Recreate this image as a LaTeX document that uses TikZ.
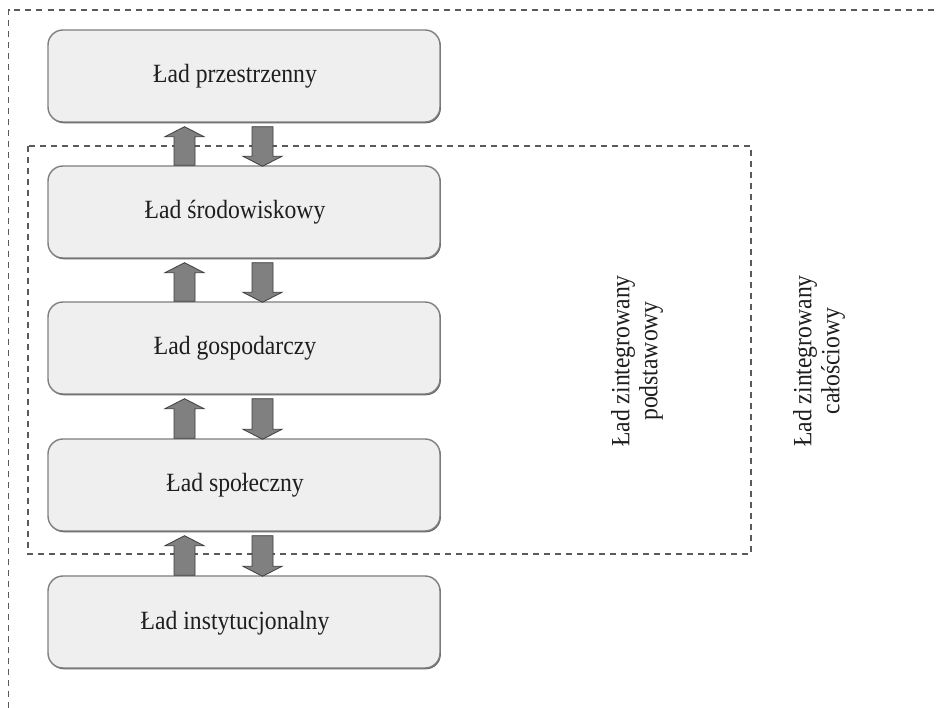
\documentclass[tikz,border=0pt]{standalone}
\usepackage{fontspec}
\setmainfont{Liberation Serif}[FakeStretch=0.9]
\usetikzlibrary{calc,shadows}
\definecolor{boxfill}{HTML}{EFEFEF}
\definecolor{boxline}{HTML}{7F7F7F}
\definecolor{dashc}{HTML}{5A5A5A}
\definecolor{arrfill}{HTML}{808080}
\definecolor{arrline}{HTML}{3C3C3C}
\definecolor{txt}{HTML}{1E1E1E}
\tikzset{
  lad/.style={rectangle, rounded corners=15pt, minimum width=392pt, minimum height=92pt,
    fill=boxfill, draw=boxline, line width=1.4pt,
    drop shadow={shadow xshift=0.9pt, shadow yshift=-1.3pt, fill=black!62, opacity=1}},
  ladtext/.style={font=\fontsize{26.3}{30}\selectfont, text=txt, inner sep=0pt, anchor=base},
  framedash/.style={draw=dashc, line width=1.1pt, dash pattern=on 6pt off 5pt},
  blockarrow/.style={fill=arrfill, draw=arrline, line width=0.8pt, line join=miter},
  vlabel/.style={rotate=90, align=center, text=txt, font=\fontsize{26.3}{28}\selectfont, inner sep=0pt}
}
\newcommand{\uparrowbetween}[2]{%
  \draw[blockarrow] ($(#2.north)+(-70,0)$) -- ($(#1.south)+(-70,14)$) -- ($(#1.south)+(-79,14)$)
    -- ($(#1.south)+(-59.5,4)$) -- ($(#1.south)+(-40,14)$) -- ($(#1.south)+(-49,14)$)
    -- ($(#2.north)+(-49,0)$) -- cycle;}
\newcommand{\downarrowbetween}[2]{%
  \draw[blockarrow] ($(#1.south)+(8,4)$) -- ($(#1.south)+(29,4)$) -- ($(#2.north)+(29,-9)$)
    -- ($(#2.north)+(38,-9)$) -- ($(#2.north)+(18.5,1)$) -- ($(#2.north)+(-1,-9)$)
    -- ($(#2.north)+(8,-9)$) -- cycle;}
\begin{document}
\begin{tikzpicture}[x=1pt,y=-1pt]
\useasboundingbox (0,0) rectangle (938,708);
% frames
\draw[framedash] (8.5,708) -- (8.5,10) -- (938,10);
\draw[framedash] (28,146) rectangle (751,554);
% boxes
\node[lad] (b1) at (244,76) {};
\node[lad] (b2) at (244,212) {};
\node[lad] (b3) at (244,348) {};
\node[lad] (b4) at (244,485) {};
\node[lad] (b5) at (244,622) {};
\node[ladtext] (t1) at ($(b1.center)+(-9,7)$) {Ład przestrzenny};
\node[ladtext] (t2) at ($(b2.center)+(-9,7)$) {Ład środowiskowy};
\node[ladtext] (t3) at ($(b3.center)+(-9,7)$) {Ład gospodarczy};
\node[ladtext] (t4) at ($(b4.center)+(-9,7)$) {Ład społeczny};
\node[ladtext] (t5) at ($(b5.center)+(-9,7)$) {Ład instytucjonalny};
% arrows
\uparrowbetween{b1}{b2}\downarrowbetween{b1}{b2}
\uparrowbetween{b2}{b3}\downarrowbetween{b2}{b3}
\uparrowbetween{b3}{b4}\downarrowbetween{b3}{b4}
\uparrowbetween{b4}{b5}\downarrowbetween{b4}{b5}
% labels
\node[vlabel] (l1) at (637,361) {Ład zintegrowany\\podstawowy};
\node[vlabel] (l2) at (819,361) {Ład zintegrowany\\całościowy};
\end{tikzpicture}
\end{document}
